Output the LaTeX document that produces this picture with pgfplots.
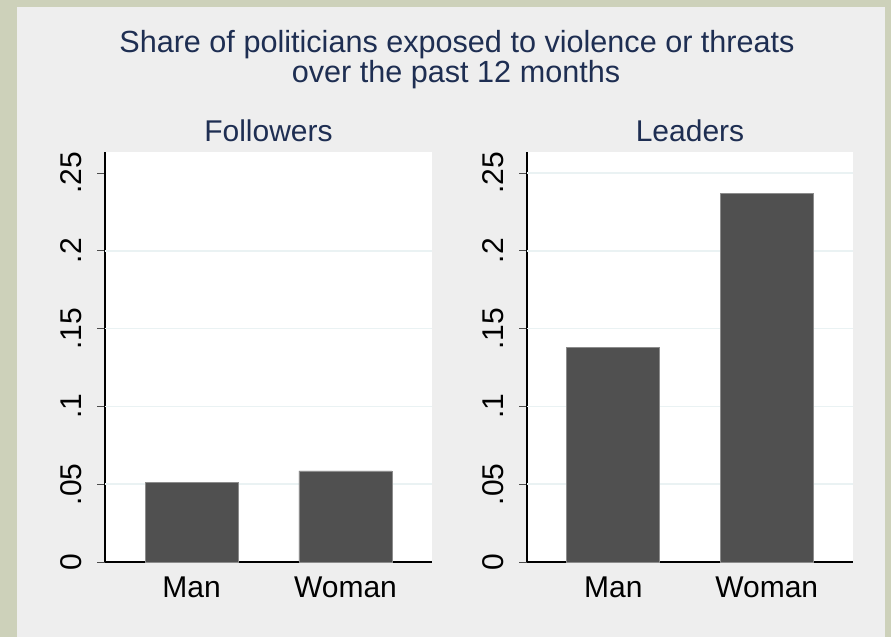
\documentclass[border=0pt]{standalone}
\usepackage{pgfplots}
\pgfplotsset{compat=1.18}
\usepackage{fontspec}
\setmainfont{Liberation Sans}
\definecolor{outer}{HTML}{CDD1BA}
\definecolor{bgc}{HTML}{EEEEEE}
\definecolor{titc}{HTML}{1E2E52}
\definecolor{barc}{HTML}{505050}
\definecolor{gridc}{HTML}{EAF2F3}
\newcommand{\bigfont}{\fontsize{30}{31}\selectfont}

\pgfplotsset{
  panel/.style={
    anchor=south west, scale only axis,
    height=410pt,
    xmin=-0.562, xmax=1.562, ymin=0, ymax=0.2635,
    axis lines*=left, axis line style={-, black, line width=1.2pt},
    axis background/.style={fill=white},
    xtick={0,1}, xticklabels={Man,Woman},
    x tick style={draw=none},
    ytick={0,0.05,0.1,0.15,0.2,0.25},
    yticklabels={0,.05,.1,.15,.2,.25},
    tick align=outside, major tick length=8pt,
    y tick style={black!70, line width=1pt},
    tick label style={font=\bigfont},
    yticklabel style={rotate=90, anchor=south, yshift=12pt},
    xticklabel style={yshift=-3pt},
    grid style={gridc, line width=1.5pt},
    title style={at={(0.5,1)}, anchor=base, yshift=4pt, font=\bigfont, text=titc},
    ybar, bar width=93pt,
  },
  bars/.style={fill=barc, draw=black!45, line width=0.8pt},
}

\begin{document}
\begin{tikzpicture}[x=1pt,y=1pt]
\fill[outer] (0,0) rectangle (891,637);
\fill[bgc] (17,0) rectangle (885,630);

\node[anchor=base, text=titc, font=\fontsize{30.6}{31}\selectfont] at (457,584) {Share of politicians exposed to violence or threats};
\node[anchor=base, text=titc, font=\fontsize{30.6}{31}\selectfont] at (456,554) {over the past 12 months};

\begin{axis}[panel, at={(105pt,75pt)}, width=327pt, title={Followers},
  extra y ticks={0.05,0.1,0.15,0.2}, extra y tick labels={},
  extra y tick style={grid=major, major tick length=0pt}]
\addplot[bars] coordinates {(0,0.051) (1,0.0585)};
\end{axis}

\begin{axis}[panel, at={(527pt,75pt)}, width=326pt, title={Leaders},
  extra y ticks={0.05,0.1,0.15,0.2,0.25}, extra y tick labels={},
  extra y tick style={grid=major, major tick length=0pt}]
\addplot[bars] coordinates {(0,0.138) (1,0.237)};
\end{axis}
\end{tikzpicture}
\end{document}
